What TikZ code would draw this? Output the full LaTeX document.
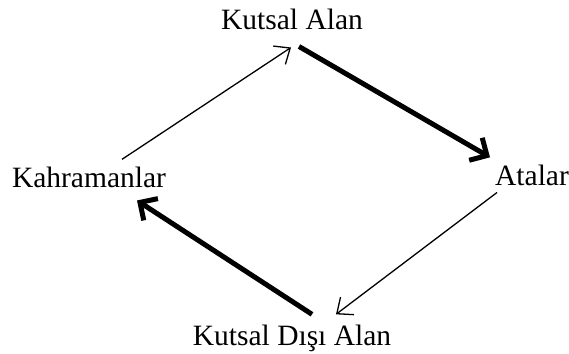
\documentclass[tikz,border=0pt]{standalone}
\usepackage{fontspec}
\setmainfont{Liberation Serif}
\usepackage{tikz}
\usetikzlibrary{arrows.meta}
\definecolor{ink}{HTML}{000000}

\begin{document}
\begin{tikzpicture}[
  x=1pt,y=1pt,
  every node/.style={font=\fontsize{29.5}{29.5}\selectfont,inner sep=0pt,anchor=base},
  thinarrow/.style={-{Straight Barb[length=13pt,width=22pt]},line width=1.3pt,draw=ink},
  thickarrow/.style={-{Straight Barb[length=13pt,width=26pt]},line width=5pt,draw=ink}
]
\useasboundingbox (0,0) rectangle (569,353);
\node (kutsal) at (292,323) {Kutsal Alan};
\node (kahraman) at (89,165) {Kahramanlar};
\node (atalar) at (532,167) {Atalar};
\node (disi) at (292,8) {Kutsal Dışı Alan};

\draw[thinarrow] ([xshift=33pt,yshift=8pt]kahraman.north) -- ([xshift=-1pt,yshift=-17pt]kutsal.south);
\draw[thickarrow] ([xshift=7pt,yshift=-16pt]kutsal.south) -- ([xshift=-42pt,yshift=8pt]atalar.north);
\draw[thinarrow] ([xshift=-35pt,yshift=-6pt]atalar.south) -- ([xshift=44pt,yshift=10pt]disi.north);
\draw[thickarrow] ([xshift=20pt,yshift=10pt]disi.north) -- ([xshift=48pt,yshift=-12pt]kahraman.south);
\end{tikzpicture}
\end{document}
